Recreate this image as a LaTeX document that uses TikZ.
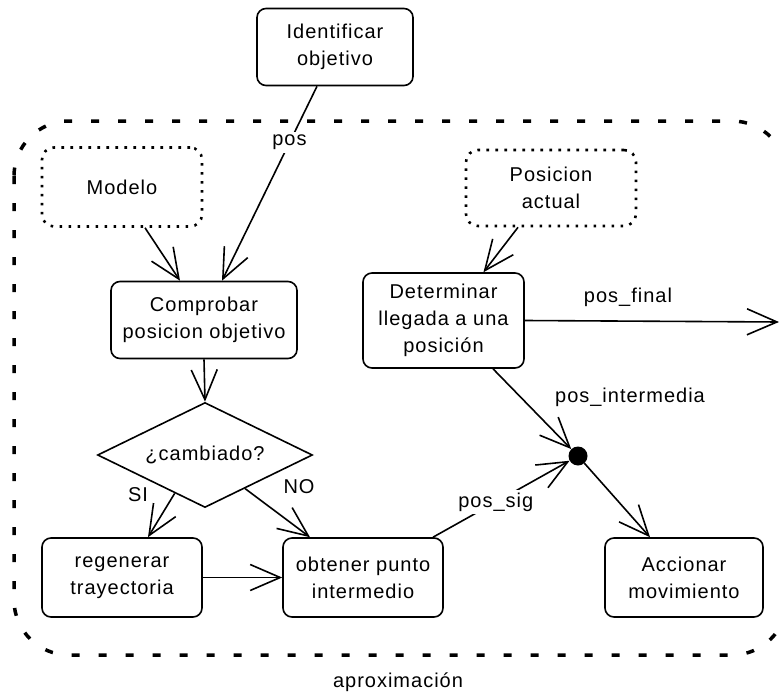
\documentclass[tikz,border=0pt]{standalone}
\usepackage{fontspec}
\setmainfont{Liberation Sans}[LetterSpace=5]
\usetikzlibrary{arrows.meta,shapes.geometric,calc}

\begin{document}
\begin{tikzpicture}[x=1pt,y=-1pt,
  font=\fontsize{20}{27}\selectfont,
  box/.style={draw, line width=1.6pt, rounded corners=9pt, align=center, inner sep=0pt},
  dotbox/.style={draw, line width=2.6pt, dash pattern=on 2.6pt off 6.4pt,
                 rounded corners=12pt, align=center, inner sep=0pt},
  arr/.style={line width=1.6pt, -{Straight Barb[length=30pt,width=26pt]}},
  onlabel/.style={fill=white, inner sep=3pt},
  region/.style={line width=3.5pt, dash pattern=on 8pt off 19pt, rounded corners=55pt},
]
\useasboundingbox (0,0) rectangle (779,693);

% activity region
\draw[region] (14,121) rectangle (787,655);
\node (aprox) at (398,682) {aproximación};

% states
\node[box, minimum width=156pt, minimum height=77pt] (ident) at (335,47) {Identificar\\objetivo};
\node[dotbox, minimum width=160pt, minimum height=79pt] (modelo) at (122,187) {Modelo};
\node[dotbox, minimum width=170pt, minimum height=76pt] (posact) at (551,188) {Posicion\\actual};
\node[box, minimum width=186pt, minimum height=77pt] (comp) at (204,320) {Comprobar\\posicion objetivo};
\node[box, minimum width=161pt, minimum height=95pt] (det) at (443.5,320.5) {Determinar\\llegada a una\\posición};
\node[draw, diamond, aspect=2.05, line width=1.6pt, minimum width=215pt, minimum height=105pt,
      inner sep=0pt] (dia) at (205,455) {¿cambiado?};
\node[box, minimum width=160pt, minimum height=79pt] (regen) at (122,577.5) {regenerar\\trayectoria};
\node[box, minimum width=160pt, minimum height=79pt] (obt) at (363,577.5) {obtener punto\\intermedio};
\node[box, minimum width=158pt, minimum height=79pt] (acc) at (684,577.5) {Accionar\\movimiento};
\node[circle, fill, inner sep=0pt, minimum size=19pt] (j) at (578,456) {};
\coordinate (out) at (779,322);

% transitions
\draw[arr] ([xshift=-18pt]ident.south) -- node[onlabel, pos=0.29] {pos} ([xshift=18pt]comp.north);
\draw[arr] ([xshift=23pt]modelo.south) -- ([xshift=-24pt]comp.north);
\draw[arr] ([xshift=-33pt]posact.south) -- ([xshift=40pt]det.north);
\draw[arr] (comp.south) -- (dia.north);
\draw[arr] ($(dia.south)!0.28!(dia.west)$) -- ([xshift=26pt]regen.north);
\draw[arr] ($(dia.south)!0.37!(dia.east)$) -- ([xshift=-53pt]obt.north);
\node (si) at (138,495) {SI};
\node (no) at (299,487) {NO};
\draw[arr] (regen.east) -- (obt.west);
\draw[arr] ([xshift=70pt]obt.north) -- node[onlabel, pos=0.46] {pos\_sig} (j);
\draw[arr] ([xshift=49.5pt]det.south) -- (j);
\node (lint) at (630,397) {pos\_intermedia};
\draw[arr] (j) -- ([xshift=-34pt]acc.north);
\draw[arr] (det.east) -- (out);
\node (lfin) at (628,297) {pos\_final};
\end{tikzpicture}
\end{document}
